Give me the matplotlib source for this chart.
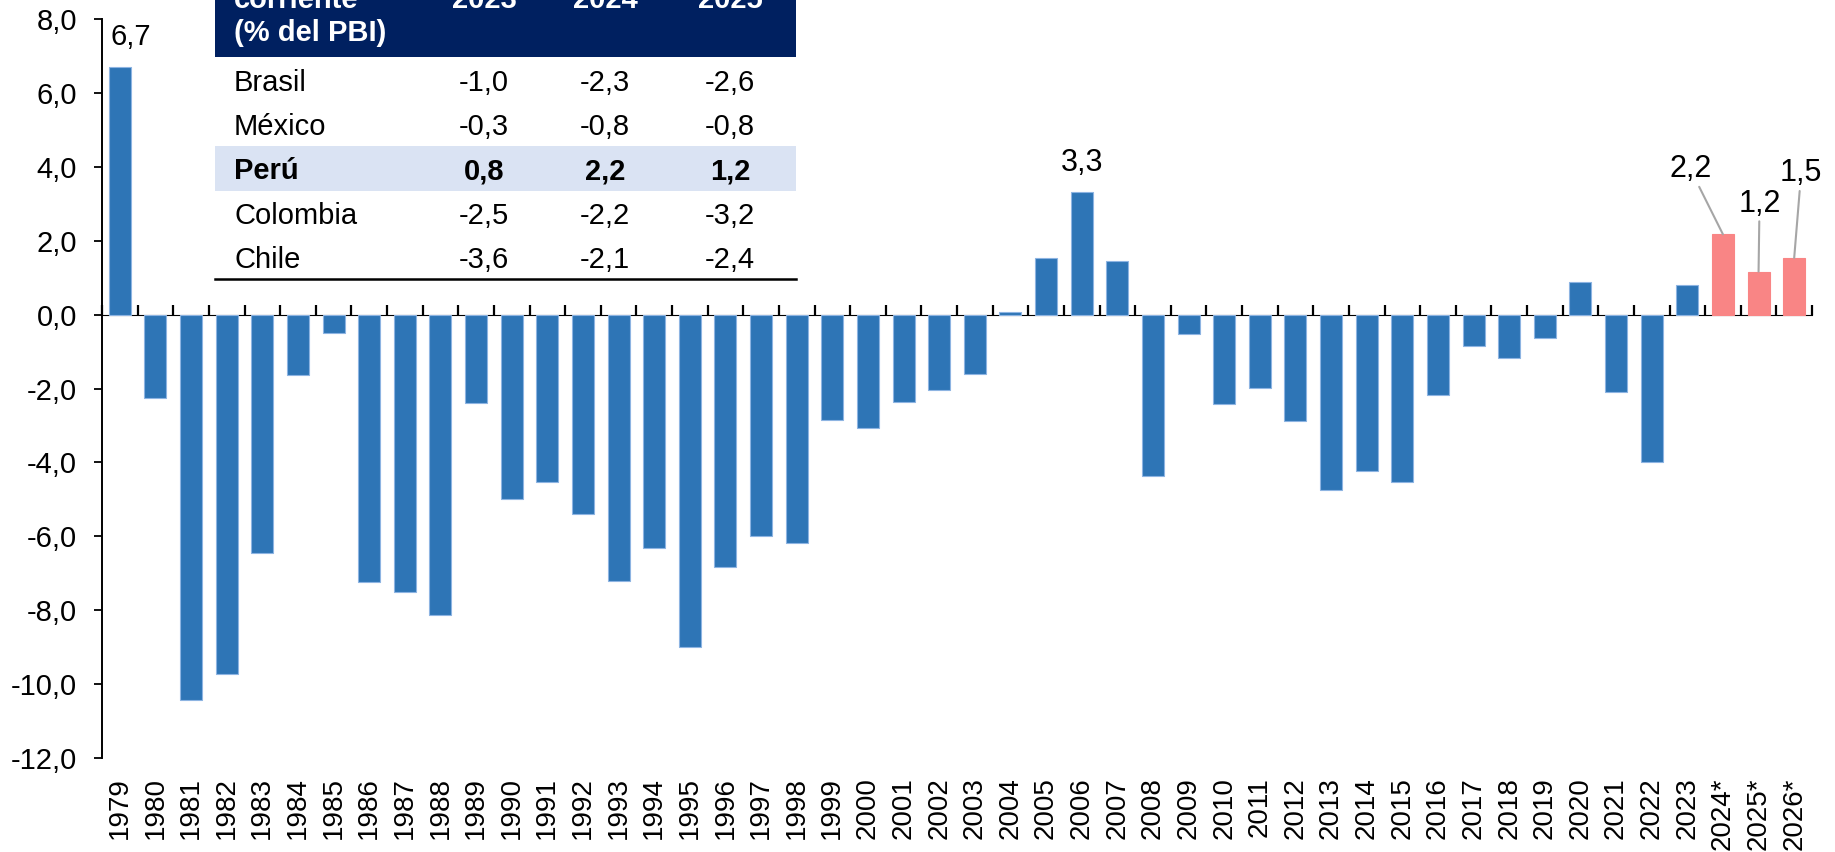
import matplotlib
matplotlib.use("Agg")
import matplotlib.pyplot as plt
from matplotlib.patches import Rectangle
from matplotlib.lines import Line2D

plt.rcParams['font.family'] = ['Liberation Sans', 'DejaVu Sans']

# ---------------- data ----------------
years = ['1979', '1980', '1981', '1982', '1983', '1984', '1985', '1986', '1987', '1988',
         '1989', '1990', '1991', '1992', '1993', '1994', '1995', '1996', '1997', '1998',
         '1999', '2000', '2001', '2002', '2003', '2004', '2005', '2006', '2007', '2008',
         '2009', '2010', '2011', '2012', '2013', '2014', '2015', '2016', '2017', '2018',
         '2019', '2020', '2021', '2022', '2023', '2024*', '2025*', '2026*']
values = [6.7, -2.26, -10.45, -9.74, -6.46, -1.64, -0.50, -7.24, -7.52, -8.14,
          -2.40, -4.98, -4.54, -5.39, -7.22, -6.32, -9.00, -6.82, -5.98, -6.18,
          -2.84, -3.07, -2.36, -2.03, -1.60, 0.07, 1.55, 3.33, 1.47, -4.36,
          -0.53, -2.41, -1.98, -2.88, -4.75, -4.24, -4.54, -2.16, -0.85, -1.16,
          -0.62, 0.90, -2.08, -3.99, 0.82, 2.18, 1.17, 1.54]
forecast = [y.endswith('*') for y in years]
yticks = [8, 6, 4, 2, 0, -2, -4, -6, -8, -10, -12]

labelled_plain = ['1979', '2006']
labelled_leader = ['2024*', '2025*', '2026*']

table_header = ['corriente', '2023', '2024', '2025']
table_subheader = '(% del PBI)'
table_countries = ['Brasil', 'México', 'Perú', 'Colombia', 'Chile']
table_2023 = ['-1,0', '-0,3', '0,8', '-2,5', '-3,6']
table_2024 = ['-2,3', '-0,8', '2,2', '-2,2', '-2,1']
table_2025 = ['-2,6', '-0,8', '1,2', '-3,2', '-2,4']
table_highlight = 'Perú'

# ---------------- style ----------------
BLUE = '#2E75B6'
SALMON = '#F98585'
NAVY = '#002060'
LIGHT = '#DAE3F3'
W, H = 1835, 852

fig = plt.figure(figsize=(W / 100, H / 100), dpi=100)
ax = fig.add_axes([102 / W, 1 - 757.7 / H, (1812 - 102) / W, (757.7 - 19.5) / H])
ax.set_facecolor('none')

x = list(range(len(years)))
colors = [SALMON if f else BLUE for f in forecast]
edges = [SALMON if f else '#8DB4E2' for f in forecast]
ax.bar(x, values, width=0.62, color=colors, edgecolor=edges, linewidth=0.8, zorder=2)

ax.set_xlim(-0.5, len(years) - 0.5)
ax.set_ylim(-12, 8)
ax.set_yticks(yticks)
ax.set_yticklabels([f"{v:.1f}".replace('.', ',') for v in yticks], fontsize=21)
ax.tick_params(axis='y', direction='out', length=6, width=1.3, pad=12)

for s in ['top', 'right', 'bottom']:
    ax.spines[s].set_visible(False)
ax.spines['left'].set_linewidth(1.4)

# category labels at bottom
ax.set_xticks(x)
ax.set_xticklabels(years, rotation=90, fontsize=20)
ax.tick_params(axis='x', length=0, pad=14)

# zero axis with boundary ticks
zero_frac = (0 - (-12)) / (8 - (-12))
sec = ax.secondary_xaxis(zero_frac)
sec.set_xticks([i - 0.5 for i in range(len(years) + 1)])
sec.set_xticklabels([])
sec.tick_params(axis='x', direction='out', length=7, width=1.6)
sec.spines['bottom'].set_linewidth(2.2)

def fmt(v):
    return f"{v:.1f}".replace('.', ',')

# plain labels
offsets_plain = {'1979': (8, 22), '2006': (0, 21)}
sizes_plain = {'1979': 21, '2006': 22}
for y in labelled_plain:
    i = years.index(y)
    ax.annotate(fmt(values[i]), xy=(i, values[i]), xytext=offsets_plain[y],
                textcoords='offset points', ha='center', va='center', fontsize=sizes_plain[y])

# leader labels
offsets_leader = {'2024*': (-23.5, 47), '2025*': (0.7, 49), '2026*': (5, 61)}
for y in labelled_leader:
    i = years.index(y)
    ax.annotate(fmt(values[i]), xy=(i, values[i]), xytext=offsets_leader[y],
                textcoords='offset points', ha='center', va='center', fontsize=22,
                arrowprops=dict(arrowstyle='-', color='#A6A6A6', lw=1.5,
                                shrinkA=0, shrinkB=0))

# ---------------- table ----------------
def fx(px):
    return px / W

def fy(py):
    return 1 - py / H

tl, tr = 214.5, 795.5
fig.add_artist(Rectangle((fx(tl), fy(57)), fx(tr) - fx(tl), fy(-20) - fy(57),
                         transform=fig.transFigure, facecolor=NAVY, edgecolor='none', zorder=1))
fig.add_artist(Rectangle((fx(tl), fy(190.7)), fx(tr) - fx(tl), fy(146) - fy(190.7),
                         transform=fig.transFigure, facecolor=LIGHT, edgecolor='none', zorder=1))
fig.add_artist(Line2D([fx(tl), fx(tr)], [fy(279.3), fy(279.3)], transform=fig.transFigure,
                      color='black', lw=1.8, zorder=2))

col_x = [484, 605, 730]
label_x = 234
fig.text(fx(label_x), fy(8), table_header[0], color='white', fontweight='bold',
         fontsize=21, ha='left', va='baseline')
for cx, t in zip(col_x, table_header[1:]):
    fig.text(fx(cx), fy(8), t, color='white', fontweight='bold', fontsize=21,
             ha='center', va='baseline')
fig.text(fx(label_x), fy(41), table_subheader, color='white', fontweight='bold',
         fontsize=21, ha='left', va='baseline')

cols = [table_2023, table_2024, table_2025]
for r, c in enumerate(table_countries):
    base = 91 + 44.2 * r
    fw = 'bold' if c == table_highlight else 'normal'
    fig.text(fx(label_x), fy(base), c, fontsize=21, fontweight=fw, ha='left', va='baseline')
    for cx, col in zip(col_x, cols):
        fig.text(fx(cx), fy(base), col[r], fontsize=21, fontweight=fw,
                 ha='center', va='baseline')

fig.savefig('out.png', dpi=100)
